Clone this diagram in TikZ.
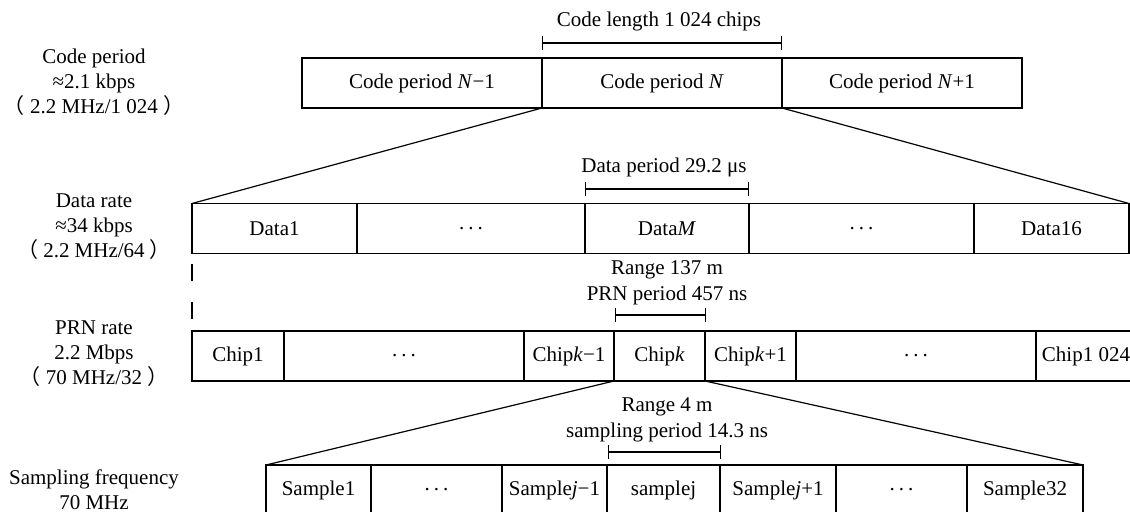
\documentclass[tikz,border=0pt]{standalone}
\usepackage{fontspec}
\setmainfont{Liberation Serif}
\newfontfamily\cjk{Noto Sans CJK SC}
\usetikzlibrary{arrows.meta}
\newcommand\skipdots{.\kern2pt.\kern2pt.}
\begin{document}
\begin{tikzpicture}[x=0.5pt, y=-0.5pt, line width=0.6pt,
  every node/.style={font=\fontsize{10.5}{12.5}\selectfont},
  cell/.style={draw, minimum height=25pt, inner sep=0pt, outer sep=0pt},
  span/.style={{Bar[width=7pt]}-{Bar[width=7pt]}},
  rate/.style={align=center}]
\useasboundingbox (0,0) rectangle (1130,512);
% rates on the left
\node[rate] (lc) at (94,82) {Code period\\≈2.1 kbps\\{\cjk（} 2.2 MHz/1 024 {\cjk）}};
\node[rate] (ld) at (94,227) {Data rate\\≈34 kbps\\{\cjk（} 2.2 MHz/64 {\cjk）}};
\node[rate] (lp) at (94,354) {PRN rate\\2.2 Mbps\\{\cjk（} 70 MHz/32 {\cjk）}};
\node[rate] (ls) at (94,490) {Sampling frequency\\70 MHz};
% the four rows of cells
\foreach \n/\l/\r/\y/\t in {
  cp1/302/542/83/{Code period \textit{N}−1}, cp2/542/782/83/{Code period \textit{N}},
  cp3/782/1022/83/{Code period \textit{N}+1},
  d1/192/357/228.5/{Data1}, d2/357/585/228.5/{\skipdots}, d3/585/749/228.5/{Data\textit{M}},
  d4/749/974/228.5/{\skipdots}, d5/974/1129/228.5/{Data16},
  p1/192/284/356/{Chip1}, p2/284/524/356/{\skipdots}, p3/524/614/356/{Chip\textit{k}−1},
  p4/614/705/356/{Chip\textit{k}}, p5/705/796/356/{Chip\textit{k}+1},
  p6/796/1036/356/{\skipdots}, p7/1036/1136/356/{Chip1 024},
  s1/266/371/490/{Sample1}, s2/371/502/490/{\skipdots}, s3/502/607/490/{Sample\textit{j}−1},
  s4/607/720/490/{samplej}, s5/720/836/490/{Sample\textit{j}+1},
  s6/836/967/490/{\skipdots}, s7/967/1083/490/{Sample32}}{
  \pgfmathsetmacro\w{(\r-\l)/2}
  \node[cell, minimum width=\w pt] (\n) at ({(\l+\r)/2},\y) {\t};
}
% zoom lines
\draw (cp2.south west) -- (d1.north west);
\draw (cp2.south east) -- (d5.north east);
\draw (p4.south west) -- (s1.north west);
\draw (p4.south east) -- (s7.north east);
\draw[dash pattern=on 8.5pt off 10.5pt, shorten <=5.5pt, shorten >=4.5pt] (d1.south west) -- (p1.north west);
% periods
\coordinate (c1) at (542,43); \coordinate (c2) at (782,43);
\draw[span] (c1) -- (c2);
\node (tc) at (659,21) {Code length 1 024 chips};
\coordinate (e1) at (585,189); \coordinate (e2) at (749,189);
\draw[span] (e1) -- (e2);
\node (te) at (664,167) {Data period 29.2 μs};
\coordinate (f1) at (615,315); \coordinate (f2) at (706,315);
\draw[span] (f1) -- (f2);
\node (tf1) at (667,270) {Range 137 m};
\node (tf2) at (667,295) {PRN period 457 ns};
\coordinate (g1) at (608,452); \coordinate (g2) at (721,452);
\draw[span] (g1) -- (g2);
\node (tg1) at (667,407) {Range 4 m};
\node (tg2) at (667,432) {sampling period 14.3 ns};
\end{tikzpicture}
\end{document}
